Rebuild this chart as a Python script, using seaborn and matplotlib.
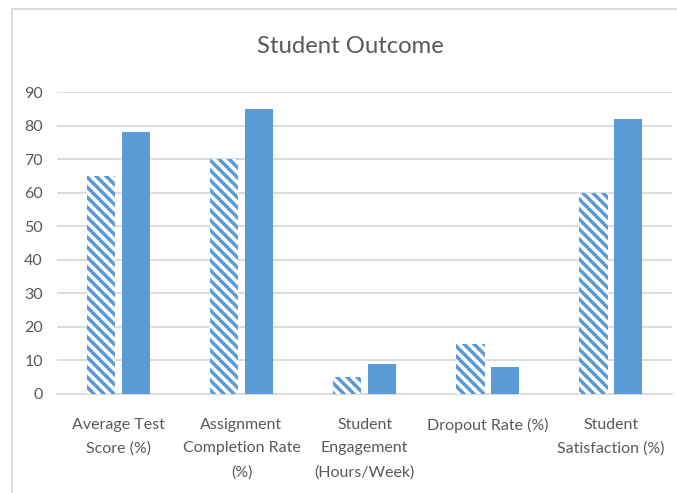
import matplotlib
matplotlib.use("Agg")
import matplotlib.pyplot as plt
import seaborn as sns
import pandas as pd
from matplotlib.patches import Rectangle

categories = ["Average Test\nScore (%)", "Assignment\nCompletion Rate\n(%)",
              "Student\nEngagement\n(Hours/Week)", "Dropout Rate (%)",
              "Student\nSatisfaction (%)"]
series_names = ["Before", "After"]
before_values = [65, 70, 5, 15, 60]
after_values = [78, 85, 9, 8, 82]
yticks = [0, 10, 20, 30, 40, 50, 60, 70, 80, 90]

df = pd.DataFrame({
    "category": categories * 2,
    "series": [series_names[0]] * 5 + [series_names[1]] * 5,
    "value": before_values + after_values,
})

DPI = 120
s = 100 / DPI  # point scale so sizes match a 100-dpi layout

sns.set_theme(style="white")
plt.rcParams["font.family"] = ["Lato", "DejaVu Sans"]
plt.rcParams["hatch.linewidth"] = 2.1

blue = "#5B9BD5"
fig = plt.figure(figsize=(677 / DPI, 493 / DPI), dpi=DPI)
ax = fig.add_axes([0.084, 0.201, 0.909, 0.612])

sns.barplot(data=df, x="category", y="value", hue="series", order=categories,
            hue_order=series_names, palette=[blue, blue], width=0.56, gap=0.18,
            saturation=1, legend=False, ax=ax, zorder=3)

n = len(categories)
for p in ax.containers[0]:
    p.set_facecolor("white")
    p.set_edgecolor(blue)
    p.set_hatch("\\" * 4)
    p.set_linewidth(0)
for p in ax.containers[1]:
    p.set_facecolor(blue)
    p.set_edgecolor(blue)
    p.set_linewidth(0)

ax.set_ylim(0, 90)
ax.set_yticks(yticks)
ax.set_xlim(-0.5, n - 0.5)
ax.yaxis.grid(True, color="#D9D9D9", linewidth=1.3 * s, zorder=0)
ax.set_axisbelow(True)
for sp in ["top", "right", "left"]:
    ax.spines[sp].set_visible(False)
ax.spines["bottom"].set_color("#D9D9D9")
ax.spines["bottom"].set_linewidth(1.3 * s)
ax.tick_params(axis="both", length=0, labelsize=11.5 * s, labelcolor="#595959")
ax.tick_params(axis="y", pad=10 * s)
ax.tick_params(axis="x", pad=17 * s)
for lab in ax.get_xticklabels():
    lab.set_linespacing(1.9)
ax.set_xlabel("")
ax.set_ylabel("")
ax.set_title("")
fig.text(0.518, 0.905, "Student Outcome", ha="center", va="center",
         fontsize=17.2 * s, color="#595959")

fig.patches.append(Rectangle((12 / 677, -0.1), 1.2, 1 - 9 / 493 + 0.1,
                             transform=fig.transFigure, fill=False,
                             edgecolor="#D9D9D9", linewidth=1.3 * s))

fig.savefig("out.png", dpi=DPI)
